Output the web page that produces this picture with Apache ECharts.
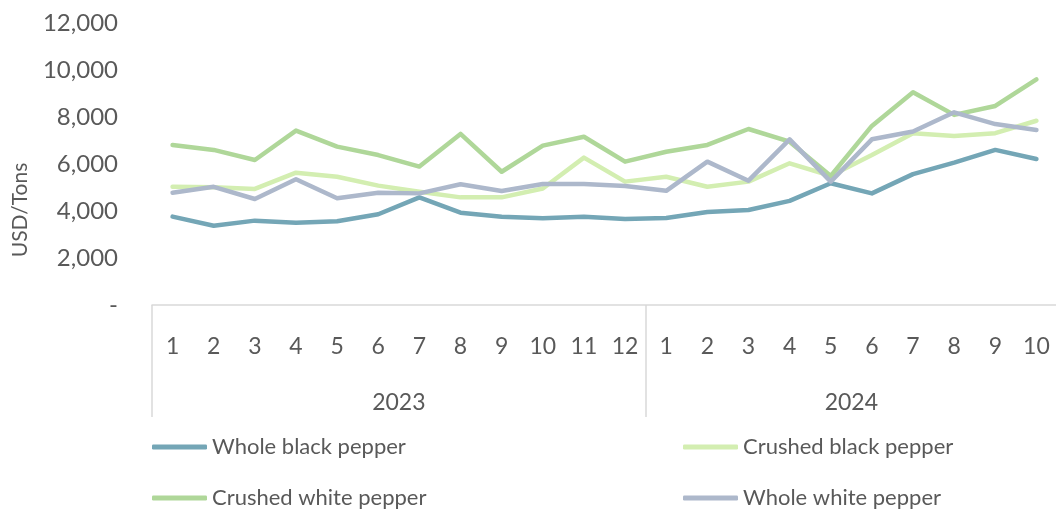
<!DOCTYPE html>
<html>
<head>
<meta charset="utf-8">
<script src="https://cdn.jsdelivr.net/npm/echarts@6/dist/echarts.min.js"></script>
<style>html,body{margin:0;padding:0;background:#fff}#c{width:1056px;height:510px}</style>
</head>
<body>
<div id="c"></div>
<script>
const years = ['2023', '2024'];
const monthsPerYear = [12, 10];
const months = ['1','2','3','4','5','6','7','8','9','10','11','12','1','2','3','4','5','6','7','8','9','10'];
const yTicks = [0, 2000, 4000, 6000, 8000, 10000, 12000];
const seriesNames = ['Whole black pepper', 'Crushed black pepper', 'Crushed white pepper', 'Whole white pepper'];
const wholeBlack   = [3760,3370,3590,3500,3560,3860,4580,3930,3760,3690,3760,3660, 3700,3960,4040,4430,5180,4750,5570,6060,6600,6210];
const crushedBlack = [5030,5010,4940,5630,5460,5080,4820,4580,4580,4960,6270,5250, 5460,5030,5250,6030,5500,6380,7310,7190,7310,7840];
const crushedWhite = [6810,6600,6170,7420,6740,6380,5890,7280,5670,6780,7160,6100, 6520,6810,7490,6950,5490,7620,9050,8090,8470,9600];
const wholeWhite   = [4780,5030,4510,5350,4540,4780,4750,5140,4850,5150,5150,5060, 4860,6100,5290,7050,5250,7050,7380,8200,7700,7450];

const colors = ['#74A6B6', '#D3EEB1', '#AFD799', '#ADB8CB'];
const FONT = 'Lato, "Liberation Sans", sans-serif';
const TXT = '#595959';

const total = monthsPerYear.reduce((a, b) => a + b, 0);
const yearAxisData = new Array(total + 1).fill('');
const boundaries = [0];
let acc = 0;
monthsPerYear.forEach((n, i) => {
  yearAxisData[Math.floor(acc + n / 2)] = years[i];
  acc += n;
  boundaries.push(acc);
});

const chart = echarts.init(document.getElementById('c'), null, {renderer: 'canvas'});
const dataSets = [wholeBlack, crushedBlack, crushedWhite, wholeWhite];

const legendPos = [[152, 435], [683, 435], [152, 486], [683, 486]];
const legends = seriesNames.map((n, i) => ({
  data: [n], left: legendPos[i][0], top: legendPos[i][1], padding: 0,
  itemWidth: 55, itemHeight: 5, icon: 'roundRect',
  textStyle: {color: TXT, fontSize: 22, fontFamily: FONT, lineHeight: 24}
}));

chart.setOption({
  animation: false,
  color: colors,
  textStyle: {fontFamily: FONT},
  grid: {left: 152, width: 905, top: 23, height: 282, containLabel: false, outerBoundsMode: 'none'},
  legend: legends,
  xAxis: [
    {
      type: 'category', data: months, position: 'bottom', boundaryGap: true,
      axisLine: {show: true, lineStyle: {color: '#D9D9D9', width: 1.5}},
      axisTick: {show: false},
      axisLabel: {color: TXT, fontSize: 23, margin: 30, interval: 0, fontFamily: FONT},
      splitLine: {show: false}
    },
    {
      type: 'category', data: yearAxisData, position: 'bottom', boundaryGap: false,
      axisLine: {show: false},
      axisTick: {show: true, length: 112, inside: false,
        interval: (idx) => boundaries.indexOf(idx) >= 0,
        lineStyle: {color: '#D9D9D9', width: 1.5}},
      axisLabel: {color: TXT, fontSize: 23, margin: 86, interval: 0, fontFamily: FONT},
      splitLine: {show: false}
    }
  ],
  yAxis: {
    type: 'value', min: yTicks[0], max: yTicks[yTicks.length - 1], interval: 2000,
    axisLine: {show: false}, axisTick: {show: false}, splitLine: {show: false},
    axisLabel: {color: TXT, fontSize: 24, margin: 34, fontFamily: FONT,
      formatter: v => v === 0 ? '-' : v.toLocaleString('en-US')},
    name: 'USD/Tons', nameLocation: 'middle', nameGap: 121,
    nameTextStyle: {color: TXT, fontSize: 21, fontFamily: FONT, padding: [0, 92, 0, 0]}
  },
  series: dataSets.map((d, i) => ({
    name: seriesNames[i], type: 'line', data: d, xAxisIndex: 0,
    symbol: 'none', lineStyle: {width: 4.5, cap: 'round', join: 'round'}
  }))
});
</script>
</body>
</html>
